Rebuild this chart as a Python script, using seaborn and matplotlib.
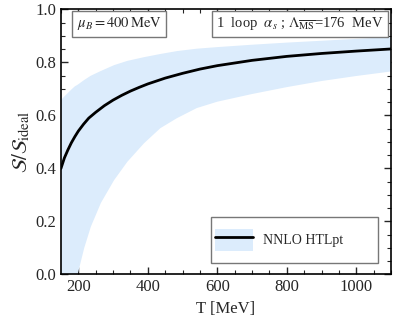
import numpy as np
import pandas as pd
import matplotlib
matplotlib.use("Agg")
import matplotlib.pyplot as plt
from matplotlib.patches import Patch, Rectangle
from matplotlib.lines import Line2D
from matplotlib.ticker import MultipleLocator, FormatStrFormatter
import seaborn as sns

# values
# central NNLO HTLpt curve
T_line = [150, 160, 170, 180, 190, 200, 215, 230, 250, 275, 300, 325, 350,
          375, 400, 450, 500, 550, 600, 700, 800, 900, 1000, 1100]
s_central = [0.400, 0.440, 0.470, 0.497, 0.520, 0.541, 0.567, 0.590, 0.612,
             0.637, 0.658, 0.676, 0.692, 0.706, 0.719, 0.741, 0.759, 0.775,
             0.788, 0.808, 0.823, 0.834, 0.843, 0.851]

# uncertainty band
T_band = [150, 160, 170, 180, 190, 198, 217, 236, 265, 303, 341, 389, 436,
          484, 541, 600, 700, 800, 900, 1000, 1100]
s_upper = [0.658, 0.672, 0.685, 0.698, 0.710, 0.716, 0.734, 0.750, 0.768,
           0.790, 0.806, 0.820, 0.832, 0.843, 0.852, 0.858, 0.867, 0.875,
           0.882, 0.889, 0.896]
s_lower = [-0.35, -0.26, -0.18, -0.11, -0.05, 0.00, 0.10, 0.18, 0.27, 0.356,
           0.425, 0.495, 0.552, 0.590, 0.628, 0.652, 0.681, 0.707, 0.730,
           0.749, 0.766]

line_df = pd.DataFrame({"T": T_line, "S": s_central})
band_df = pd.DataFrame({"T": T_band, "upper": s_upper, "lower": s_lower})

sns.set_theme(style="ticks")
plt.rcParams["font.family"] = ["Liberation Serif", "DejaVu Serif"]
plt.rcParams["mathtext.fontset"] = "stix"

band_color = "#dcecfc"

fig = plt.figure(figsize=(4.09, 3.29), dpi=100)
ax = fig.add_axes([0.149, 0.1657, 0.807, 0.8055])

ax.fill_between(band_df["T"], band_df["lower"], band_df["upper"], color=band_color, lw=0)
sns.lineplot(data=line_df, x="T", y="S", color="black", lw=2, ax=ax, legend=False)

ax.set_xlim(150, 1100)
ax.set_ylim(0, 1.0)
ax.xaxis.set_major_locator(MultipleLocator(200))
ax.xaxis.set_minor_locator(MultipleLocator(50))
ax.yaxis.set_major_locator(MultipleLocator(0.2))
ax.yaxis.set_minor_locator(MultipleLocator(0.05))
ax.yaxis.set_major_formatter(FormatStrFormatter("%.1f"))
ax.tick_params(which="both", direction="in", top=True, right=True, labelsize=12)
ax.tick_params(which="major", length=5, width=1)
ax.tick_params(which="minor", length=3, width=0.8)
for sp in ax.spines.values():
    sp.set_linewidth(1.2)
    sp.set_color("black")

ax.set_xlabel("T [MeV]", fontsize=12)
ax.set_ylabel(r"$\mathcal{S}/\mathcal{S}_{\mathrm{ideal}}$", fontsize=15, labelpad=2)

box = dict(boxstyle="square,pad=0.3", fc="white", ec="#777777", lw=1)
ax.text(0.176, 0.946, r"$\mu_B = 400\,\mathrm{MeV}$", transform=ax.transAxes,
        ha="center", va="center", fontsize=10.5, bbox=box)
ax.text(0.724, 0.946, r"1  loop  $\alpha_s$ ; $\Lambda_{\overline{\mathrm{MS}}}$=176  MeV",
        transform=ax.transAxes, ha="center", va="center", fontsize=10.5, bbox=box)

# legend frame drawn as a fixed box, entries placed inside it
ax.add_patch(Rectangle((0.455, 0.043), 0.505, 0.174, transform=ax.transAxes,
                       fc="white", ec="#777777", lw=1, zorder=4))
handle = (Patch(fc=band_color, ec="none"), Line2D([], [], color="black", lw=2))
leg = ax.legend([handle], ["NNLO HTLpt"], loc="center left",
                bbox_to_anchor=(0.455, 0.13), frameon=False, fontsize=10,
                handlelength=2.7, handleheight=2.0, borderpad=0.3,
                borderaxespad=0, handletextpad=0.7)
leg.set_zorder(5)

fig.savefig("out.png", dpi=100)
